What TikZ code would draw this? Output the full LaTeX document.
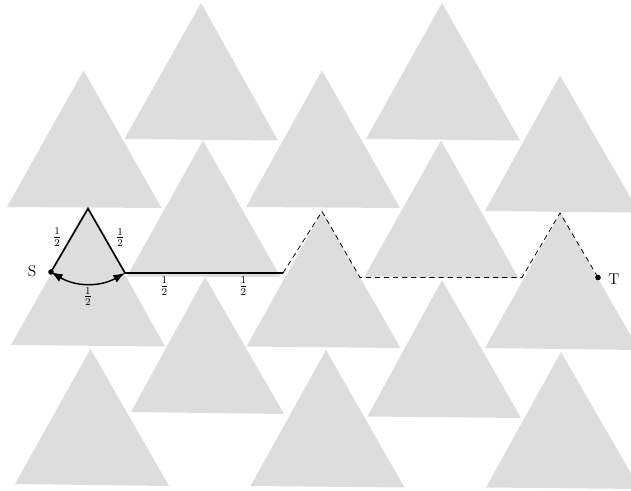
\documentclass[tikz,border=0pt]{standalone}
\usetikzlibrary{arrows.meta}
\definecolor{trigray}{RGB}{221,221,221}
\begin{document}
\begin{tikzpicture}[x=0.7692pt,y=-0.7692pt,
  tri/.style={fill=trigray},
  solidpath/.style={line width=1.3pt, line join=miter},
  dashpath/.style={line width=0.6pt, dash pattern=on 4pt off 3pt},
  arcpath/.style={line width=1.1pt, {Latex[length=9pt,width=6.5pt]}-{Latex[length=9pt,width=6.5pt]}},
  lab/.style={inner sep=2.5pt, font=\large},
  every node/.style={font=\large}]
\useasboundingbox (0,0) rectangle (631,491);
\clip (0,0) rectangle (631,491);
% triangles
\fill[tri] (201,3) -- (124.5,139) -- (278,140.5) -- cycle;
\fill[tri] (442,3) -- (366,139) -- (520,140.5) -- cycle;
\fill[tri] (83.5,70.5) -- (7,207) -- (161.5,208) -- cycle;
\fill[tri] (322,70.5) -- (246,207) -- (400,208) -- cycle;
\fill[tri] (560,75.5) -- (485,211) -- (639,212.5) -- cycle;
\fill[tri] (203,140.5) -- (127,276.5) -- (280.5,277) -- cycle;
\fill[tri] (441,140.5) -- (364.5,276.5) -- (518.5,278) -- cycle;
\fill[tri] (88,208.5) -- (11,345) -- (165,346.5) -- cycle;
\fill[tri] (322,211.5) -- (246.5,346.5) -- (400.5,348) -- cycle;
\fill[tri] (560.5,213) -- (485,348) -- (639,350) -- cycle;
\fill[tri] (205,277) -- (131,412) -- (284,414) -- cycle;
\fill[tri] (442,280) -- (367.5,416.5) -- (521,418) -- cycle;
\fill[tri] (90.5,349) -- (15,484) -- (169,486) -- cycle;
\fill[tri] (326,350) -- (250.5,486) -- (404.5,487.5) -- cycle;
\fill[tri] (561,352) -- (486,487.5) -- (640,489) -- cycle;
% path vertices
\coordinate (S) at (51,272);
\coordinate (A) at (88,208.5);
\coordinate (B) at (125,273);
\coordinate (C) at (283,273);
\coordinate (D) at (322,211.5);
\coordinate (E) at (360,277.5);
\coordinate (F) at (522,277.5);
\coordinate (G) at (560,213);
\coordinate (T) at (598,277.5);
% solid part
\draw[solidpath] (S) -- node[lab,left=4.5pt,pos=0.55]{$\frac{1}{2}$} (A)
  -- node[lab,right=5.5pt,pos=0.45]{$\frac{1}{2}$} (B)
  -- node[lab,below,pos=0.25]{$\frac{1}{2}$} node[lab,below,pos=0.75]{$\frac{1}{2}$} (C);
% dashed part
\draw[dashpath] (C) -- (D) -- (E) -- (F) -- (G) -- (T);
% arc
\draw[arcpath] (S) to[bend right=30] node[lab,below]{$\frac{1}{2}$} (B);
% end points
\fill (S) circle[radius=2.8];
\fill (T) circle[radius=2.8];
\node (Slab) at (32,271) {S};
\node (Tlab) at (614,279) {T};
\end{tikzpicture}
\end{document}
